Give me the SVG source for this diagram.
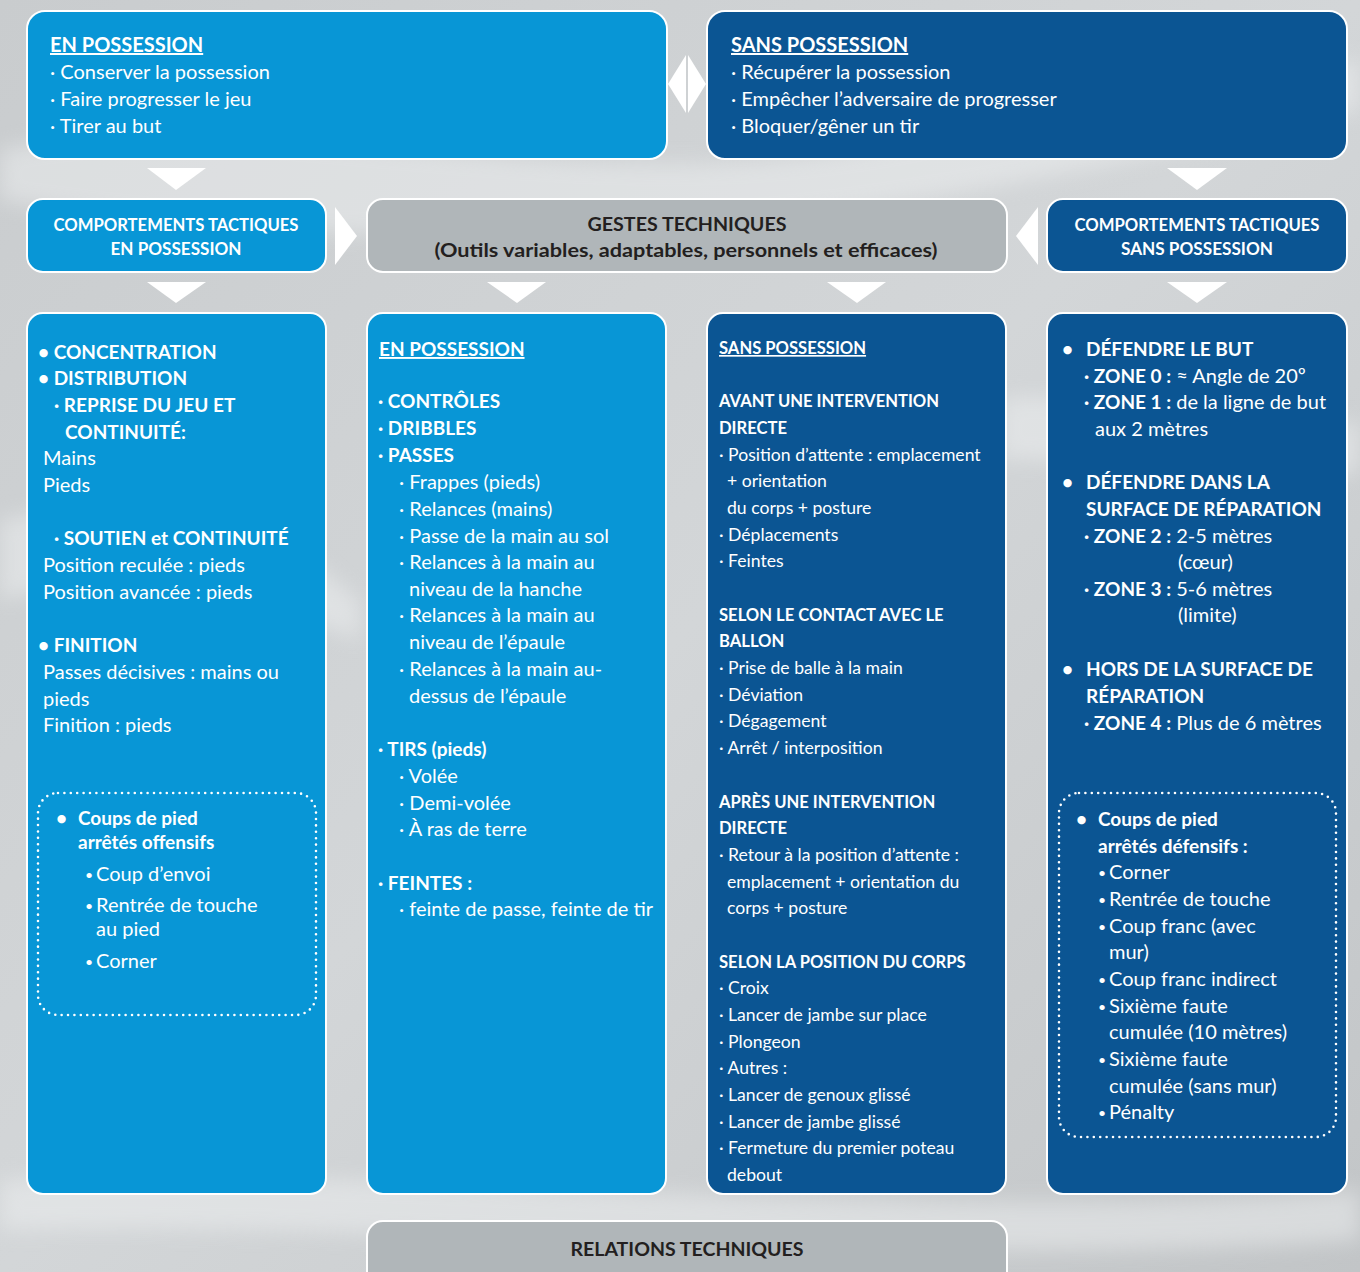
<svg xmlns="http://www.w3.org/2000/svg" width="1360" height="1272" viewBox="0 0 1360 1272">
<defs>
<linearGradient id="bg" x1="0" y1="0" x2="1" y2="1">
<stop offset="0" stop-color="#c9ccce"/>
<stop offset="0.5" stop-color="#d3d6d8"/>
<stop offset="1" stop-color="#c2c5c7"/>
</linearGradient>
<filter id="blur" x="-20%" y="-20%" width="140%" height="140%"><feGaussianBlur stdDeviation="10"/></filter>
<style>
text{font-family:Lato,"Liberation Sans",sans-serif;}
.light{fill:#0896d6;stroke:#fff;stroke-width:2;}
.dark{fill:#0b5593;stroke:#fff;stroke-width:2;}
.gray{fill:#b0b6b9;stroke:#fff;stroke-width:2;}
.tri{fill:#fff;}
.dots{fill:none;stroke:#fff;stroke-width:2.6;stroke-dasharray:0 6.4;stroke-linecap:round;}
.w{fill:#fff;}
.k{fill:#231f20;}
.top{font-size:20px;}
.b{font-weight:700;}
.u{text-decoration:underline;}
.c1{font-size:20px;}
.c1 .b{font-size:19px;}
.c3{font-size:17.6px;}
.c3 .b{font-size:16.6px;}
.sm{font-size:14px;}
.mid{text-anchor:middle;}
</style>
</defs>
<rect width="1360" height="1272" fill="url(#bg)"/>
<g opacity="0.5" filter="url(#blur)" fill="#eef0f1">
<path d="M0 150 C300 90 600 230 1000 120 L1360 60 L1360 110 C1000 190 600 290 0 200 Z"/>
<path d="M0 520 C250 470 300 560 360 600 L360 640 C250 600 150 560 0 600 Z"/>
<path d="M1000 400 C1100 380 1200 460 1360 420 L1360 470 C1200 520 1100 450 1000 460 Z"/>
<path d="M0 1180 C400 1160 900 1230 1360 1190 L1360 1240 C900 1272 400 1220 0 1230 Z"/>
</g>

<!-- connectors -->
<g id="connectors">
<polygon class="tri" points="668,84 686,55 686,113"/>
<polygon class="tri" points="706,84 688,55 688,113"/>
<polygon class="tri" points="147,168 206,168 176,190"/>
<polygon class="tri" points="1167,168 1227,168 1197,190"/>
<polygon class="tri" points="335,207 357,236 335,265"/>
<polygon class="tri" points="1038,207 1016,236 1038,265"/>
<polygon class="tri" points="147,282 206,282 176,303"/>
<polygon class="tri" points="487,282 546,282 517,303"/>
<polygon class="tri" points="827,282 886,282 857,303"/>
<polygon class="tri" points="1167,282 1227,282 1197,303"/>
</g>

<g id="en-possession">
<rect class="light" x="27" y="11" width="640" height="148" rx="18"/>
<text class="w top b u" x="50" y="52" font-size="19">EN POSSESSION</text>
<text class="w top" x="50" y="79">· Conserver la possession</text>
<text class="w top" x="50" y="106">· Faire progresser le jeu</text>
<text class="w top" x="50" y="133">· Tirer au but</text>
</g>

<g id="sans-possession">
<rect class="dark" x="707" y="11" width="640" height="148" rx="18"/>
<text class="w top b u" x="731" y="52" font-size="19">SANS POSSESSION</text>
<text class="w top" x="731" y="79">· Récupérer la possession</text>
<text class="w top" x="731" y="106">· Empêcher l’adversaire de progresser</text>
<text class="w top" x="731" y="133">· Bloquer/gêner un tir</text>
</g>

<g id="ct-en-possession">
<rect class="light" x="27" y="199" width="299" height="73" rx="16"/>
<text class="w b mid" x="176" y="231" font-size="16.5" textLength="245" lengthAdjust="spacingAndGlyphs">COMPORTEMENTS TACTIQUES</text>
<text class="w b mid" x="176" y="255" font-size="16.5" textLength="131" lengthAdjust="spacingAndGlyphs">EN POSSESSION</text>
</g>

<g id="gestes-techniques">
<rect class="gray" x="367" y="199" width="640" height="73" rx="16"/>
<text class="k b mid" x="687" y="231" font-size="19.5" textLength="199" lengthAdjust="spacingAndGlyphs">GESTES TECHNIQUES</text>
<text class="k b mid" x="686" y="257" font-size="19.5" textLength="503" lengthAdjust="spacingAndGlyphs">(Outils variables, adaptables, personnels et efficaces)</text>
</g>

<g id="ct-sans-possession">
<rect class="dark" x="1047" y="199" width="300" height="73" rx="16"/>
<text class="w b mid" x="1197" y="231" font-size="16.5" textLength="245" lengthAdjust="spacingAndGlyphs">COMPORTEMENTS TACTIQUES</text>
<text class="w b mid" x="1197" y="255" font-size="16.5" textLength="152" lengthAdjust="spacingAndGlyphs">SANS POSSESSION</text>
</g>

<g id="col-comportements-en-possession">
<rect class="light" x="27" y="313" width="299" height="881" rx="16"/>
<g class="w c1">
<text class="b" x="38" y="359">• CONCENTRATION</text>
<text class="b" x="38" y="385">• DISTRIBUTION</text>
<text class="b" x="54" y="412">· REPRISE DU JEU ET</text>
<text class="b" x="65" y="439">CONTINUITÉ:</text>
<text x="43" y="465">Mains</text>
<text x="43" y="492">Pieds</text>
<text class="b" x="54" y="545">· SOUTIEN et CONTINUITÉ</text>
<text x="43" y="572">Position reculée : pieds</text>
<text x="43" y="599">Position avancée : pieds</text>
<text class="b" x="38" y="652">• FINITION</text>
<text x="43" y="679">Passes décisives : mains ou</text>
<text x="43" y="706">pieds</text>
<text x="43" y="732">Finition : pieds</text>
</g>
<rect class="dots" x="38" y="793" width="278" height="222" rx="20"/>
<g class="w c1">
<text class="b" x="56" y="825">•</text>
<text class="b" x="78" y="825">Coups de pied</text>
<text class="b" x="78" y="849">arrêtés offensifs</text>
<text class="sm" x="85" y="880">•</text>
<text x="96" y="881">Coup d’envoi</text>
<text class="sm" x="85" y="911">•</text>
<text x="96" y="912">Rentrée de touche</text>
<text x="96" y="936">au pied</text>
<text class="sm" x="85" y="967">•</text>
<text x="96" y="968">Corner</text>
</g>
</g>

<g id="col-gestes-en-possession">
<rect class="light" x="367" y="313" width="299" height="881" rx="16"/>
<g class="w c1">
<text class="b u" x="379" y="356">EN POSSESSION</text>
<text class="b" x="378" y="408">· CONTRÔLES</text>
<text class="b" x="378" y="435">· DRIBBLES</text>
<text class="b" x="378" y="462">· PASSES</text>
<text x="399" y="489">· Frappes (pieds)</text>
<text x="399" y="516">· Relances (mains)</text>
<text x="399" y="543">· Passe de la main au sol</text>
<text x="399" y="569">· Relances à la main au</text>
<text x="409" y="596">niveau de la hanche</text>
<text x="399" y="622">· Relances à la main au</text>
<text x="409" y="649">niveau de l’épaule</text>
<text x="399" y="676">· Relances à la main au-</text>
<text x="409" y="703">dessus de l’épaule</text>
<text class="b" x="378" y="756">· TIRS (pieds)</text>
<text x="399" y="783">· Volée</text>
<text x="399" y="810">· Demi-volée</text>
<text x="399" y="836">· À ras de terre</text>
<text class="b" x="378" y="890">· FEINTES :</text>
<text x="399" y="916">· feinte de passe, feinte de tir</text>
</g>
</g>

<g id="col-gestes-sans-possession">
<rect class="dark" x="707" y="313" width="299" height="881" rx="16"/>
<g class="w c3">
<text class="b u" x="719" y="354">SANS POSSESSION</text>
<text class="b" x="719" y="407">AVANT UNE INTERVENTION</text>
<text class="b" x="719" y="434">DIRECTE</text>
<text x="719" y="461">· Position d’attente : emplacement</text>
<text x="727" y="487">+ orientation</text>
<text x="727" y="514">du corps + posture</text>
<text x="719" y="541">· Déplacements</text>
<text x="719" y="567">· Feintes</text>
<text class="b" x="719" y="621">SELON LE CONTACT AVEC LE</text>
<text class="b" x="719" y="647">BALLON</text>
<text x="719" y="674">· Prise de balle à la main</text>
<text x="719" y="701">· Déviation</text>
<text x="719" y="727">· Dégagement</text>
<text x="719" y="754">· Arrêt / interposition</text>
<text class="b" x="719" y="808">APRÈS UNE INTERVENTION</text>
<text class="b" x="719" y="834">DIRECTE</text>
<text x="719" y="861">· Retour à la position d’attente :</text>
<text x="727" y="888">emplacement + orientation du</text>
<text x="727" y="914">corps + posture</text>
<text class="b" x="719" y="968">SELON LA POSITION DU CORPS</text>
<text x="719" y="994">· Croix</text>
<text x="719" y="1021">· Lancer de jambe sur place</text>
<text x="719" y="1048">· Plongeon</text>
<text x="719" y="1074">· Autres :</text>
<text x="719" y="1101">· Lancer de genoux glissé</text>
<text x="719" y="1128">· Lancer de jambe glissé</text>
<text x="719" y="1154">· Fermeture du premier poteau</text>
<text x="727" y="1181">debout</text>
</g>
</g>

<g id="col-comportements-sans-possession">
<rect class="dark" x="1047" y="313" width="300" height="881" rx="16"/>
<g class="w c1">
<text class="b" x="1062" y="356">•</text>
<text class="b" x="1086" y="356">DÉFENDRE LE BUT</text>
<text x="1084" y="383"><tspan class="b">· ZONE 0 :</tspan> ≈ Angle de 20º</text>
<text x="1084" y="409"><tspan class="b">· ZONE 1 :</tspan> de la ligne de but</text>
<text x="1095" y="436">aux 2 mètres</text>
<text class="b" x="1062" y="489">•</text>
<text class="b" x="1086" y="489">DÉFENDRE DANS LA</text>
<text class="b" x="1086" y="516">SURFACE DE RÉPARATION</text>
<text x="1084" y="543"><tspan class="b">· ZONE 2 :</tspan> 2-5 mètres</text>
<text x="1178" y="569">(cœur)</text>
<text x="1084" y="596"><tspan class="b">· ZONE 3 :</tspan> 5-6 mètres</text>
<text x="1178" y="622">(limite)</text>
<text class="b" x="1062" y="676">•</text>
<text class="b" x="1086" y="676">HORS DE LA SURFACE DE</text>
<text class="b" x="1086" y="703">RÉPARATION</text>
<text x="1084" y="730"><tspan class="b">· ZONE 4 :</tspan> Plus de 6 mètres</text>
</g>
<rect class="dots" x="1059" y="793" width="277" height="344" rx="20"/>
<g class="w c1">
<text class="b" x="1076" y="826">•</text>
<text class="b" x="1098" y="826">Coups de pied</text>
<text class="b" x="1098" y="853">arrêtés défensifs :</text>
<text class="sm" x="1098" y="878">•</text>
<text x="1109" y="879">Corner</text>
<text class="sm" x="1098" y="905">•</text>
<text x="1109" y="906">Rentrée de touche</text>
<text class="sm" x="1098" y="932">•</text>
<text x="1109" y="933">Coup franc (avec</text>
<text x="1109" y="959">mur)</text>
<text class="sm" x="1098" y="985">•</text>
<text x="1109" y="986">Coup franc indirect</text>
<text class="sm" x="1098" y="1012">•</text>
<text x="1109" y="1013">Sixième faute</text>
<text x="1109" y="1039">cumulée (10 mètres)</text>
<text class="sm" x="1098" y="1065">•</text>
<text x="1109" y="1066">Sixième faute</text>
<text x="1109" y="1093">cumulée (sans mur)</text>
<text class="sm" x="1098" y="1118">•</text>
<text x="1109" y="1119">Pénalty</text>
</g>
</g>

<g id="relations-techniques">
<rect class="gray" x="367" y="1221" width="640" height="70" rx="16"/>
<text class="k b mid" x="687" y="1256" font-size="19" textLength="233" lengthAdjust="spacingAndGlyphs">RELATIONS TECHNIQUES</text>
</g>
</svg>
